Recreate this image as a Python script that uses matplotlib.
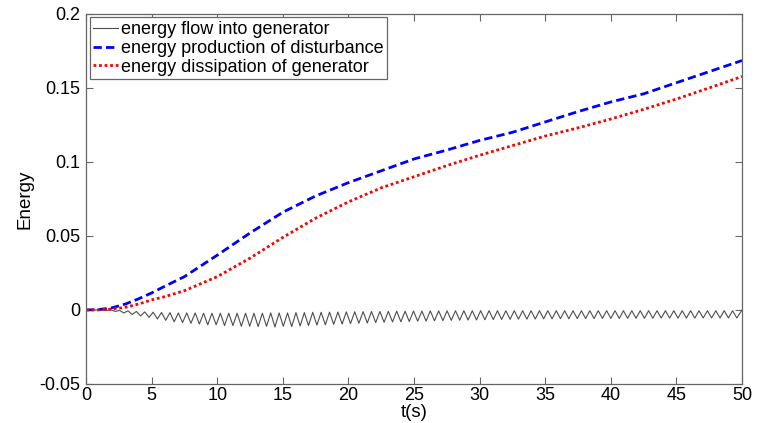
import numpy as np
import matplotlib
matplotlib.use('Agg')
import matplotlib.pyplot as plt

plt.rcParams['font.family'] = ['Liberation Sans', 'DejaVu Sans']

# Smooth curves
t_pts = [0, 1, 2, 3, 4, 5, 6, 7.5, 10, 12.5, 15, 17.5, 20, 22.5, 25,
         27.5, 30, 32.5, 35, 37.5, 40, 42.5, 45, 47.5, 50]
production = [0, 0.0003, 0.0015, 0.004, 0.0075, 0.0115, 0.016, 0.0225, 0.037,
              0.052, 0.066, 0.077, 0.086, 0.094, 0.102, 0.108, 0.1145, 0.12,
              0.127, 0.134, 0.1405, 0.146, 0.1535, 0.161, 0.1685]
dissipation = [0, 0.0001, 0.0006, 0.0018, 0.004, 0.0068, 0.009, 0.013, 0.0225,
               0.035, 0.049, 0.062, 0.073, 0.0825, 0.09, 0.0975, 0.1045, 0.111,
               0.1175, 0.123, 0.129, 0.1355, 0.1425, 0.15, 0.1577]

# Oscillating flow into generator: one peak and one trough per cycle
flow_period = 0.64   # s, counted off the picture
flow_peaks = [0, 0, 0, 0, -0.0003, -0.0006, -0.001, -0.0013, -0.0015, -0.0017,
              -0.0018, -0.002, -0.002, -0.002, -0.0022, -0.0022, -0.0022, -0.0022, -0.0022, -0.0022,
              -0.0022, -0.0022, -0.002, -0.002, -0.002, -0.0018, -0.0018, -0.0016, -0.0016, -0.0015,
              -0.0014, -0.0013, -0.0012, -0.0011, -0.001, -0.001, -0.0009, -0.0008, -0.0008, -0.0007,
              -0.0007, -0.0006, -0.0006, -0.0006, -0.0005, -0.0005, -0.0005, -0.0005, -0.0005, -0.0005,
              -0.0005, -0.0005, -0.0005, -0.0005, -0.0005, -0.0005, -0.0005, -0.0005, -0.0005, -0.0005,
              -0.0005, -0.0005, -0.0005, -0.0005, -0.0005, -0.0005, -0.0005, -0.0005, -0.0005, -0.0005,
              -0.0005, -0.0005, -0.0005, -0.0005, -0.0005, -0.0005, -0.0005, -0.0005]
flow_troughs = [0, 0, -0.0003, -0.001, -0.002, -0.003, -0.004, -0.005, -0.006, -0.007,
                -0.008, -0.0085, -0.009, -0.0095, -0.01, -0.01, -0.0105, -0.0105, -0.011, -0.011,
                -0.0112, -0.011, -0.0115, -0.011, -0.0112, -0.0108, -0.0105, -0.0102, -0.01, -0.0097,
                -0.0095, -0.0092, -0.009, -0.0088, -0.0085, -0.0083, -0.0081, -0.008, -0.0078, -0.0076,
                -0.0075, -0.0073, -0.0072, -0.007, -0.0069, -0.0068, -0.0067, -0.0066, -0.0065, -0.0064,
                -0.0063, -0.0062, -0.0062, -0.0061, -0.006, -0.006, -0.0059, -0.0059, -0.0058, -0.0058,
                -0.0058, -0.0057, -0.0057, -0.0057, -0.0056, -0.0056, -0.0056, -0.0056, -0.0055, -0.0055,
                -0.0055, -0.0055, -0.0055, -0.0054, -0.0054, -0.0054, -0.0054, -0.0054]
flow_end = 0.0

x_ticks = [0, 5, 10, 15, 20, 25, 30, 35, 40, 45, 50]
y_ticks = [-0.05, 0, 0.05, 0.1, 0.15, 0.2]
y_tick_labels = ['-0.05', '0', '0.05', '0.1', '0.15', '0.2']

# Build the zigzag for the flow curve
flow_t = []
flow_v = []
for k in range(len(flow_peaks)):
    flow_t.append(k * flow_period)
    flow_v.append(flow_peaks[k])
    flow_t.append((k + 0.5) * flow_period)
    flow_v.append(flow_troughs[k])
flow_t.append(50)
flow_v.append(flow_end)

fig = plt.figure(figsize=(7.65, 4.23), dpi=100)
ax = fig.add_axes([0.1124, 0.0922, 0.8576, 0.875])

ax.plot(flow_t, flow_v, color='0.3', lw=0.8, label='energy flow into generator')
ax.plot(t_pts, production, color='#0000ff', lw=2, dashes=(3, 1.5),
        label='energy production of disturbance')
ax.plot(t_pts, dissipation, color='#ff0000', lw=2, dashes=(1, 1),
        label='energy dissipation of generator')

ax.set_xlim(0, 50)
ax.set_ylim(-0.05, 0.2)
ax.set_xticks(x_ticks)
ax.set_yticks(y_ticks)
ax.set_yticklabels(y_tick_labels)
ax.tick_params(direction='in', top=True, right=True, labelsize=13,
               length=5, width=0.8, color='0.4')
ax.tick_params(axis='x', pad=2)
ax.tick_params(axis='y', pad=4)
for s in ax.spines.values():
    s.set_color('0.4')
    s.set_linewidth(0.9)

ax.set_xlabel('t(s)', fontsize=13.5, labelpad=0)
ax.set_ylabel('Energy', fontsize=13.5, labelpad=4)

leg = ax.legend(loc='upper left', fontsize=13, handlelength=1.4,
                handletextpad=0.15, labelspacing=0.1, borderpad=0.2,
                borderaxespad=0.2, fancybox=False, framealpha=1)
leg.get_frame().set_edgecolor('0.4')
leg.get_frame().set_linewidth(0.9)

fig.savefig('out.png', dpi=100)
